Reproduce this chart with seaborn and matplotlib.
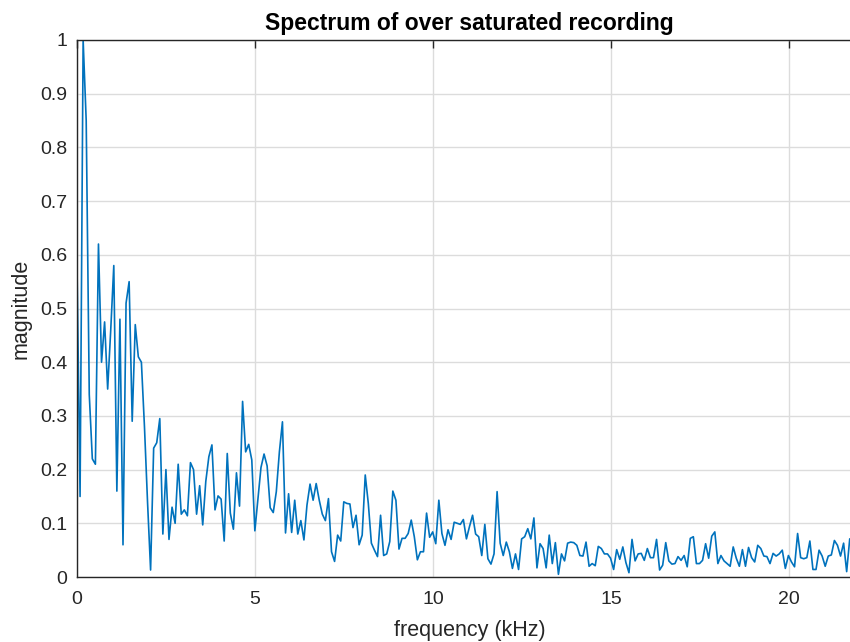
import numpy as np
import pandas as pd
import matplotlib
matplotlib.use("Agg")
import matplotlib.pyplot as plt
import seaborn as sns

# ---- data (magnitude, one value per FFT bin) ----
mag_0_2k = [0.58, 0.15, 1.0, 0.85, 0.34, 0.22, 0.21, 0.62, 0.40, 0.475,
            0.35, 0.46, 0.58, 0.16, 0.48, 0.06, 0.51, 0.55, 0.29, 0.47,
            0.41, 0.40, 0.28, 0.14, 0.013]
mag_2_4k = [0.24, 0.25, 0.295, 0.08, 0.20, 0.07, 0.13, 0.10, 0.21, 0.117,
            0.125, 0.114, 0.213, 0.20, 0.117, 0.17, 0.097, 0.178, 0.224, 0.246,
            0.125]
mag_4_6k = [0.151, 0.145, 0.067, 0.23, 0.119, 0.089, 0.194, 0.132, 0.327, 0.233,
            0.247, 0.218, 0.086, 0.146, 0.204, 0.229, 0.207, 0.129, 0.12, 0.159,
            0.233, 0.289]
mag_6_8k = [0.082, 0.155, 0.083, 0.143, 0.08, 0.105, 0.069, 0.134, 0.173, 0.143,
            0.174, 0.143, 0.117, 0.105, 0.146, 0.047, 0.029, 0.078, 0.067, 0.140,
            0.137, 0.136, 0.092, 0.115, 0.06]
mag_8_10k = [0.078, 0.19, 0.137, 0.063, 0.05, 0.038, 0.115, 0.04, 0.043, 0.066,
             0.16, 0.143, 0.052, 0.072, 0.072, 0.081, 0.106, 0.075, 0.032, 0.047,
             0.047, 0.119, 0.074, 0.084]
mag_10_12k = [0.062, 0.143, 0.081, 0.059, 0.088, 0.07, 0.102, 0.10, 0.098, 0.107,
              0.071, 0.094, 0.115, 0.08, 0.075, 0.04, 0.098, 0.034, 0.024, 0.043,
              0.159, 0.063, 0.04, 0.065, 0.047]
mag_12_14k = [0.016, 0.043, 0.014, 0.071, 0.075, 0.09, 0.071, 0.11, 0.017, 0.062,
              0.053, 0.017, 0.078, 0.025, 0.064, 0.005, 0.043, 0.03, 0.063, 0.065,
              0.064, 0.059, 0.04, 0.039]
mag_14_16k = [0.065, 0.02, 0.025, 0.021, 0.057, 0.053, 0.043, 0.043, 0.035, 0.014,
              0.051, 0.033, 0.056, 0.027, 0.008, 0.07, 0.03, 0.043, 0.044, 0.031,
              0.053, 0.036, 0.036, 0.07, 0.013]
mag_16_18k = [0.022, 0.064, 0.03, 0.024, 0.025, 0.038, 0.031, 0.04, 0.019, 0.072,
              0.075, 0.025, 0.025, 0.031, 0.062, 0.035, 0.076, 0.084, 0.025, 0.04,
              0.03, 0.025, 0.02, 0.056]
mag_18_22k = [0.035, 0.02, 0.051, 0.02, 0.055, 0.036, 0.028, 0.059, 0.053, 0.039,
              0.038, 0.025, 0.044, 0.039, 0.043, 0.05, 0.016, 0.04, 0.028, 0.019,
              0.081, 0.036, 0.034, 0.036, 0.067, 0.014, 0.014, 0.05, 0.039, 0.02,
              0.039, 0.041, 0.068, 0.059, 0.039, 0.063, 0.01, 0.071]

magnitude = (mag_0_2k + mag_2_4k + mag_4_6k + mag_6_8k + mag_8_10k + mag_10_12k
             + mag_12_14k + mag_14_16k + mag_16_18k + mag_18_22k)
sample_rate_khz = 44.1
bin_khz = sample_rate_khz / 512
frequency_khz = np.arange(len(magnitude)) * bin_khz

x_ticks = [0, 5, 10, 15, 20]
y_ticks = [0, 0.1, 0.2, 0.3, 0.4, 0.5, 0.6, 0.7, 0.8, 0.9, 1]
y_tick_labels = ["0", "0.1", "0.2", "0.3", "0.4", "0.5", "0.6", "0.7", "0.8", "0.9", "1"]
title = "Spectrum of over saturated recording"
x_label = "frequency (kHz)"
y_label = "magnitude"

df = pd.DataFrame({"frequency": frequency_khz, "magnitude": magnitude})

# ---- style ----
sns.set_style("white")
plt.rcParams["font.family"] = ["Liberation Sans", "DejaVu Sans"]
dark = "#262626"

W, H = 850, 642
fig = plt.figure(figsize=(W / 100, H / 100), dpi=100)
left, right, top, bottom = 77, 862, 40, 577
ax = fig.add_axes([left / W, 1 - bottom / H, (right - left) / W, (bottom - top) / H])

sns.lineplot(data=df, x="frequency", y="magnitude", ax=ax, color="#0072BD",
             linewidth=1.2, errorbar=None)

ax.set_xlim(0, 22.05)
ax.set_ylim(0, 1)
ax.set_xticks(x_ticks)
ax.set_yticks(y_ticks)
ax.set_yticklabels(y_tick_labels)
ax.grid(True, color="#dcdcdc", linewidth=1.0)
ax.set_axisbelow(True)
for s in ax.spines.values():
    s.set_visible(True)
    s.set_color(dark)
    s.set_linewidth(1.0)
ax.tick_params(axis="both", direction="in", length=6, width=1.0, color=dark,
               labelcolor=dark, labelsize=14, top=True, right=True)
ax.tick_params(axis="x", pad=10)
ax.tick_params(axis="y", pad=7)

ax.set_title(title, fontsize=16.5, fontweight="bold", color="black", pad=7)
ax.set_xlabel(x_label, fontsize=15.5, color=dark, labelpad=9)
ax.set_ylabel(y_label, fontsize=15.5, color=dark, labelpad=6)

fig.savefig("out.png", dpi=100)
